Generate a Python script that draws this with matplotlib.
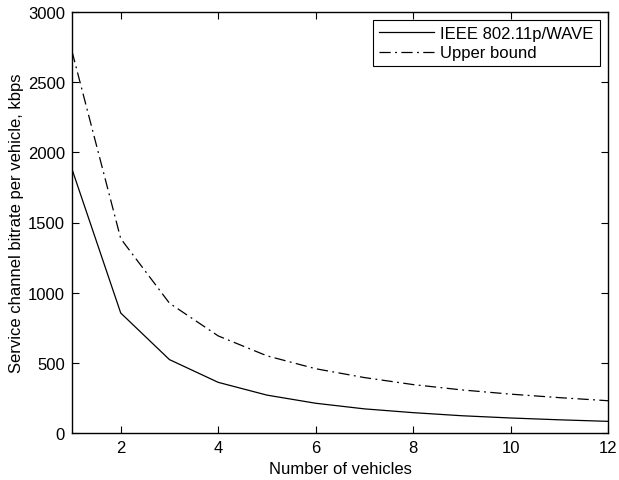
import matplotlib
matplotlib.use("Agg")
import matplotlib.pyplot as plt

plt.rcParams['font.family'] = ['Liberation Sans', 'DejaVu Sans']

vehicles = [1, 2, 3, 4, 5, 6, 7, 8, 9, 10, 11, 12]
wave_bitrate = [1880, 855, 523, 361, 270, 212, 172, 145, 123, 107, 94, 83]
upper_bound = [2720, 1385, 925, 692, 550, 458, 395, 345, 307, 277, 252, 230]

x_ticks = [2, 4, 6, 8, 10, 12]
y_ticks = [0, 500, 1000, 1500, 2000, 2500, 3000]

fs = 12

fig = plt.figure(figsize=(6.19, 4.81), dpi=100)
ax = fig.add_axes([72/619, 1 - 434/481, (608-72)/619, (434-13)/481])

ax.plot(vehicles, wave_bitrate, color='black', linewidth=0.9, linestyle='-',
        label='IEEE 802.11p/WAVE')
ax.plot(vehicles, upper_bound, color='black', linewidth=0.9,
        linestyle=(0, (9, 3.5, 1.5, 3.5)), label='Upper bound')

ax.set_xlim(1, 12)
ax.set_ylim(0, 3000)
ax.set_xticks(x_ticks)
ax.set_yticks(y_ticks)
ax.tick_params(direction='in', top=True, right=True, labelsize=fs,
               length=5, width=0.8, pad=5)
for s in ax.spines.values():
    s.set_linewidth(1.0)

ax.set_xlabel('Number of vehicles', fontsize=fs, labelpad=4)
ax.set_ylabel('Service channel bitrate per vehicle, kbps', fontsize=fs, labelpad=3)

leg = ax.legend(loc='upper right', fontsize=fs, fancybox=False, framealpha=1,
                edgecolor='black', handlelength=3.3, borderpad=0.35,
                labelspacing=0.25, handletextpad=0.4, borderaxespad=0.5)
leg.get_frame().set_linewidth(0.8)

fig.savefig('out.png', dpi=100)
